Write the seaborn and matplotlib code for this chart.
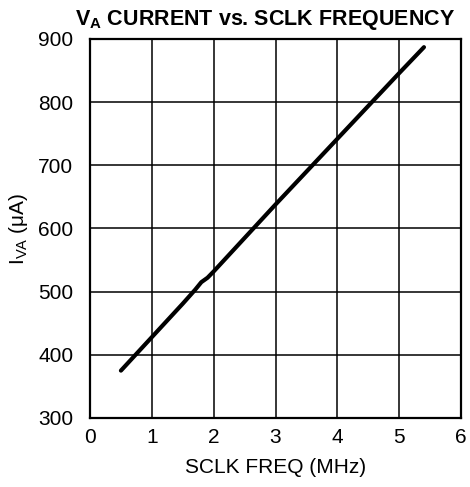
import matplotlib
matplotlib.use("Agg")
import matplotlib.pyplot as plt
import seaborn as sns
import pandas as pd

# Données
sclk_freq = [0.5, 1.0, 1.5, 1.7, 1.8, 1.9, 2.0, 2.5, 3.0, 3.5, 4.0, 4.5, 5.0, 5.4]
iva_current = [375, 428, 481, 503, 515, 522, 532, 585, 638, 690, 742, 794, 846, 887]

x_ticks = [0, 1, 2, 3, 4, 5, 6]
y_ticks = [300, 400, 500, 600, 700, 800, 900]

df = pd.DataFrame({"freq": sclk_freq, "iva": iva_current})

sns.set_style("white")
plt.rcParams["font.family"] = ["Liberation Sans", "DejaVu Sans"]
plt.rcParams["mathtext.fontset"] = "custom"
plt.rcParams["mathtext.rm"] = "Liberation Sans"
plt.rcParams["mathtext.bf"] = "Liberation Sans:bold"
plt.rcParams["text.color"] = "black"
plt.rcParams["axes.labelcolor"] = "black"

fig = plt.figure(figsize=(4.7, 4.87), dpi=100)
ax = fig.add_axes([0.1915, 0.1417, 0.7895, 0.7783])

sns.lineplot(data=df, x="freq", y="iva", ax=ax, color="black", linewidth=3)

ax.set_xlim(0, 6)
ax.set_ylim(300, 900)
ax.set_xticks(x_ticks)
ax.set_yticks(y_ticks)
ax.grid(True, color="black", linewidth=1.1)
for sp in ax.spines.values():
    sp.set_visible(True)
    sp.set_color("black")
    sp.set_linewidth(1.6)
ax.tick_params(axis="both", length=0, labelsize=15, colors="black")
ax.tick_params(axis="y", pad=12)
ax.tick_params(axis="x", pad=7)

ax.set_xlabel("SCLK FREQ (MHz)", fontsize=15, labelpad=8)
ax.set_ylabel(r"I$_{\mathrm{VA}}$ ($\mathrm{\mu}$A)", fontsize=15, labelpad=6)
ax.set_title(r"V$_{\mathbf{A}}$ CURRENT vs. SCLK FREQUENCY", fontsize=15.5,
             fontweight="bold", pad=10, x=0.473)

plt.savefig("out.png", dpi=100)
plt.close()
